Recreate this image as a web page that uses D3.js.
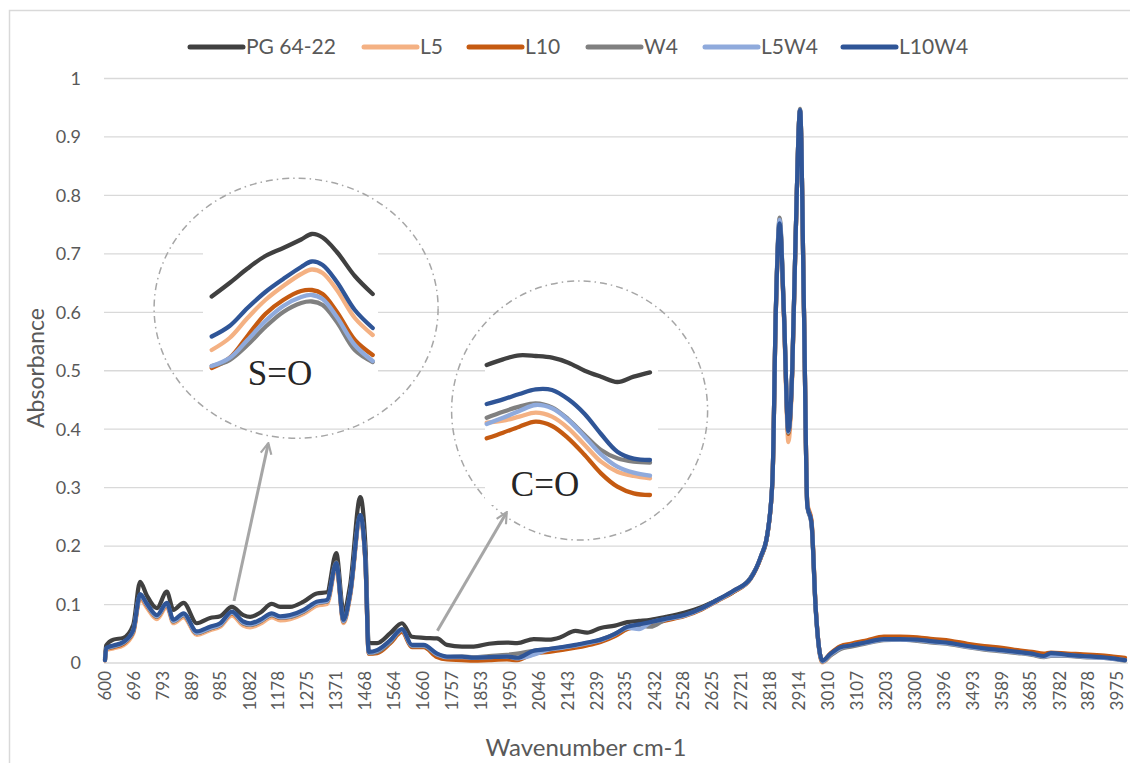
<!DOCTYPE html>
<html>
<head>
<meta charset="utf-8">
<script src="https://cdn.jsdelivr.net/npm/d3@7/dist/d3.min.js"></script>
<style>
  body { margin: 0; background: #fff; }
  svg { display: block; font-family: Lato, "Open Sans", sans-serif; }
</style>
</head>
<body>
<svg id="chart" width="1130" height="763"></svg>
<script>
// ---- spectrum data ----
const wavenumbers = [
  600, 604, 628, 661, 694, 717, 739, 773, 806, 828,
  862, 906, 950, 984, 1023, 1061, 1084, 1117, 1156, 1184,
  1217, 1262, 1306, 1340, 1371, 1395, 1417, 1451, 1468, 1479,
  1507, 1551, 1590, 1623, 1662, 1707, 1740, 1790, 1829, 1880,
  1940, 1974, 2029, 2080, 2118, 2168, 2207, 2252, 2300, 2341,
  2380, 2418, 2470, 2530, 2590, 2641, 2696, 2752, 2786, 2808,
  2825, 2836, 2849, 2863, 2878, 2891, 2902, 2917, 2930, 2941,
  2955, 2969, 2991, 3019, 3052, 3086, 3141, 3196, 3250, 3308,
  3360, 3419, 3475, 3531, 3590, 3642, 3690, 3730, 3753, 3809,
  3860, 3920, 3960, 4000];

const pg6422 = [
  .008, .030, .040, .043, .065, .139, .116, .094, .122, .091,
  .103, .068, .077, .080, .096, .082, .079, .086, .101, .096,
  .096, .105, .119, .121, .188, .088, .133, .284, .202, .034,
  .034, .051, .068, .045, .043, .042, .031, .028, .028, .033,
  .035, .034, .041, .040, .044, .055, .052, .060, .064, .070,
  .072, .074, .079, .086, .096, .108, .122, .146, .180, .220,
  .315, .600, .756, .600, .395, .505, .727, .946, .600, .270,
  .240, .093, .004, .015, .028, .031, .037, .043, .044, .042,
  .039, .036, .031, .027, .023, .020, .018, .014, .014, .015,
  .013, .011, .009, .007];

const l5 = [
  .004, .022, .025, .030, .050, .110, .095, .075, .096, .068,
  .078, .048, .056, .062, .081, .064, .061, .067, .078, .073,
  .075, .084, .098, .101, .163, .068, .113, .245, .170, .016,
  .019, .036, .055, .029, .029, .013, .009, .008, .007, .008,
  .009, .008, .018, .022, .025, .029, .033, .038, .048, .059,
  .064, .068, .074, .081, .093, .107, .124, .145, .181, .220,
  .312, .595, .748, .590, .378, .495, .722, .944, .598, .275,
  .245, .095, .001, .013, .026, .030, .036, .042, .042, .041,
  .038, .035, .030, .026, .023, .020, .017, .014, .015, .014,
  .013, .011, .010, .008];

const l10 = [
  .005, .024, .027, .033, .053, .114, .099, .079, .100, .071,
  .082, .051, .059, .065, .085, .068, .065, .071, .082, .077,
  .079, .088, .102, .105, .168, .071, .117, .250, .173, .016,
  .017, .034, .053, .027, .027, .010, .006, .005, .004, .005,
  .006, .005, .016, .019, .022, .026, .030, .036, .046, .058,
  .063, .067, .073, .080, .092, .106, .122, .144, .181, .220,
  .314, .598, .750, .598, .392, .502, .725, .945, .602, .272,
  .243, .095, .003, .017, .029, .033, .039, .045, .045, .044,
  .041, .038, .033, .029, .026, .022, .019, .016, .018, .016,
  .015, .013, .011, .009];

const w4 = [
  .005, .025, .028, .034, .054, .116, .100, .079, .101, .071,
  .082, .051, .059, .065, .086, .068, .065, .071, .082, .078,
  .079, .088, .102, .105, .172, .071, .118, .252, .175, .017,
  .019, .036, .056, .029, .029, .014, .010, .011, .010, .012,
  .014, .016, .021, .024, .026, .030, .034, .040, .050, .060,
  .064, .062, .075, .081, .093, .107, .123, .145, .182, .221,
  .316, .602, .762, .602, .394, .505, .728, .948, .600, .268,
  .238, .090, .002, .013, .024, .028, .034, .039, .040, .038,
  .035, .032, .027, .023, .020, .017, .014, .010, .012, .012,
  .010, .009, .007, .004];

const l5w4 = [
  .005, .025, .029, .035, .055, .116, .100, .080, .101, .072,
  .083, .052, .060, .066, .086, .069, .066, .072, .083, .078,
  .080, .089, .103, .106, .169, .072, .118, .250, .174, .018,
  .021, .038, .057, .030, .030, .015, .010, .010, .009, .010,
  .011, .008, .014, .023, .026, .030, .034, .039, .049, .060,
  .058, .069, .075, .081, .093, .107, .123, .145, .182, .221,
  .315, .600, .758, .600, .396, .505, .727, .946, .600, .270,
  .240, .093, .003, .015, .026, .030, .035, .040, .040, .039,
  .036, .033, .028, .024, .021, .018, .015, .011, .013, .013,
  .011, .009, .007, .005];

const l10w4 = [
  .005, .026, .030, .036, .056, .118, .102, .082, .103, .074,
  .085, .054, .062, .068, .088, .071, .068, .074, .085, .080,
  .082, .091, .105, .108, .171, .074, .120, .253, .176, .019,
  .022, .039, .058, .031, .031, .016, .011, .011, .009, .010,
  .011, .009, .021, .024, .027, .031, .035, .040, .050, .062,
  .066, .070, .076, .082, .094, .108, .124, .145, .182, .221,
  .315, .600, .752, .600, .397, .505, .727, .946, .600, .270,
  .240, .093, .004, .016, .027, .030, .036, .041, .041, .040,
  .037, .034, .029, .025, .022, .019, .016, .012, .017, .014,
  .012, .010, .008, .005];

// ---- zoomed insets ----
const soWn = [985, 995, 1005, 1015, 1025, 1035, 1041, 1047, 1055, 1065, 1075];
const soPG = [.0867, .0894, .0923, .0948, .0964, .0981, .0992, .0985, .0956, .0908, .0872];
const soL5 = [.0760, .0784, .0824, .0860, .0888, .0912, .0921, .0914, .0880, .0824, .0790];
const soL10 = [.0724, .0744, .0788, .0832, .0860, .0878, .0880, .0872, .0836, .0780, .0750];
const soW4 = [.0728, .0740, .0770, .0806, .0836, .0854, .0857, .0850, .0816, .0760, .0736];
const soL5W4 = [.0728, .0744, .0780, .0818, .0848, .0866, .0870, .0862, .0826, .0770, .0738];
const soL10W4 = [.0787, .0808, .0844, .0876, .0902, .0926, .0937, .0930, .0896, .0840, .0804];

const coWn = [1650, 1660, 1670, 1680, 1690, 1700, 1710, 1720, 1730, 1740, 1750];
const coPG = [.02575, .0266, .0272, .0271, .02685, .0261, .0249, .0240, .0232, .0240, .02465];
const coL5 = [.0171, .0174, .0180, .0186, .0180, .01625, .01375, .01125, .00975, .0091, .00875];
const coL10 = [.01475, .0156, .0165, .01725, .0166, .01475, .01225, .0095, .0075, .0065, .00625];
const coW4 = [.01785, .01875, .0195, .0200, .0194, .0176, .01525, .0130, .01175, .01125, .0111];
const coL5W4 = [.0169, .01785, .01885, .01975, .01925, .0175, .0150, .01235, .0105, .0096, .00915];
const coL10W4 = [.0199, .0206, .0214, .0221, .0220, .0206, .0184, .0154, .01275, .0117, .0115];

const seriesNames = ["PG 64-22", "L5", "L10", "W4", "L5W4", "L10W4"];
const seriesColors = ["#404040", "#F4B183", "#C55A11", "#808080", "#8FAADC", "#2F5597"];
const xTickLabels = [600, 696, 793, 889, 985, 1082, 1178, 1275, 1371, 1468, 1564, 1660,
  1757, 1853, 1950, 2046, 2143, 2239, 2335, 2432, 2528, 2625, 2721, 2818, 2914, 3010,
  3107, 3203, 3300, 3396, 3493, 3589, 3685, 3782, 3878, 3975];
const yTicks = [0, 0.1, 0.2, 0.3, 0.4, 0.5, 0.6, 0.7, 0.8, 0.9, 1];

// ---- layout ----
const svg = d3.select("#chart");
const x = d3.scaleLinear().domain([600, 4000]).range([105, 1125]);
const y = d3.scaleLinear().domain([0, 1]).range([663, 78.5]);
const gridLeft = 104, gridRight = 1128;
const textColor = "#595959";

// chart border
svg.append("rect").attr("x", 9.5).attr("y", 10.5).attr("width", 1140).attr("height", 770)
  .attr("fill", "#fff").attr("stroke", "#D9D9D9").attr("stroke-width", 1.5);

// gridlines
svg.append("g").selectAll("line").data(yTicks).join("line")
  .attr("x1", gridLeft).attr("x2", gridRight)
  .attr("y1", d => y(d)).attr("y2", d => y(d))
  .attr("stroke", "#D9D9D9").attr("stroke-width", 1.3);

// y tick labels
svg.append("g").selectAll("text").data(yTicks).join("text")
  .attr("x", 81).attr("y", d => y(d)).attr("dy", "0.35em")
  .attr("text-anchor", "end").attr("fill", textColor).style("font-size", "18px")
  .text(d => d3.format("~g")(d));

// x tick labels
svg.append("g").selectAll("text").data(xTickLabels).join("text")
  .attr("transform", d => `translate(${x(d)},671) rotate(-90)`)
  .attr("dy", "0.35em").attr("text-anchor", "end")
  .attr("fill", textColor).style("font-size", "17px")
  .text(d => d);

// axis titles
svg.append("text").attr("transform", "translate(36,368) rotate(-90)")
  .attr("dy", "0.35em").attr("text-anchor", "middle").attr("fill", textColor)
  .style("font-size", "23px").text("Absorbance");
svg.append("text").attr("x", 586).attr("y", 748).attr("dy", "0.35em")
  .attr("text-anchor", "middle").attr("fill", textColor)
  .style("font-size", "24px").text("Wavenumber cm-1");

// spectra
const allSeries = [pg6422, l5, l10, w4, l5w4, l10w4];
const line = d3.line().x(d => x(d[0])).y(d => y(d[1])).curve(d3.curveMonotoneX);
svg.append("g").selectAll("path").data(allSeries).join("path")
  .attr("d", s => line(wavenumbers.map((w, i) => [w, s[i]])))
  .attr("fill", "none").attr("stroke", (s, i) => seriesColors[i])
  .attr("stroke-width", 4.2).attr("stroke-linejoin", "round").attr("stroke-linecap", "round");

// legend
const legendX = [190, 364, 469, 588, 705, 843];
const leg = svg.append("g").selectAll("g").data(seriesNames).join("g")
  .attr("transform", (d, i) => `translate(${legendX[i]},47)`);
leg.append("line").attr("x1", 0).attr("x2", 53).attr("stroke", (d, i) => seriesColors[i])
  .attr("stroke-width", 5).attr("stroke-linecap", "round");
leg.append("text").attr("x", 56).attr("dy", "0.35em").attr("fill", textColor)
  .style("font-size", "21px").text(d => d);

// ---- annotations: dash-dot circles, zoomed insets, arrows ----
const circles = [
  { wn: 1237, abs: 0.607, rx: 142, ry: 130 },
  { wn: 2182, abs: 0.432, rx: 128, ry: 129.5 }];
svg.append("g").selectAll("ellipse").data(circles).join("ellipse")
  .attr("cx", d => x(d.wn)).attr("cy", d => y(d.abs))
  .attr("rx", d => d.rx).attr("ry", d => d.ry)
  .attr("fill", "none").attr("stroke", "#A6A6A6").attr("stroke-width", 1.5)
  .attr("stroke-dasharray", "7,4,1.5,4");

function drawInset(box, xs, ys, wn, sets, label, labelPos) {
  const g = svg.append("g");
  g.append("rect").attr("x", box[0]).attr("y", box[1])
    .attr("width", box[2] - box[0]).attr("height", box[3] - box[1]).attr("fill", "#fff");
  const ln = d3.line().x(d => xs(d[0])).y(d => ys(d[1])).curve(d3.curveCatmullRom);
  g.selectAll("path").data(sets).join("path")
    .attr("d", s => ln(wn.map((w, i) => [w, s[i]])))
    .attr("fill", "none").attr("stroke", (s, i) => seriesColors[i])
    .attr("stroke-width", 4.3).attr("stroke-linecap", "round");
  g.append("text").attr("x", labelPos[0]).attr("y", labelPos[1])
    .attr("text-anchor", "middle").attr("fill", "#262626")
    .style("font-family", "'Liberation Serif', 'DejaVu Serif', serif")
    .style("font-size", "35px").text(label);
}

drawInset([203, 215, 378, 400],
  d3.scaleLinear().domain([985, 1075]).range([211.7, 372.7]),
  d3.scaleLinear().domain([0.070, 0.100]).range([380, 230]),
  soWn, [soPG, soL5, soL10, soW4, soL5W4, soL10W4], "S=O", [280, 385]);

drawInset([485, 330, 658, 505],
  d3.scaleLinear().domain([1650, 1750]).range([486.7, 650]),
  d3.scaleLinear().domain([0.04, 0.01]).range([270, 470]),
  coWn, [coPG, coL5, coL10, coW4, coL5W4, coL10W4], "C=O", [545, 496]);

// arrows from the bands to the circles
const arrows = [
  { from: [1030, 0.106], to: [1144, 0.375] },
  { from: [1708, 0.055], to: [1938, 0.257] }];
svg.append("defs").append("marker").attr("id", "arrowHead")
  .attr("viewBox", "0 0 10 10").attr("refX", 8.5).attr("refY", 5)
  .attr("markerWidth", 4.5).attr("markerHeight", 4.5).attr("orient", "auto")
  .append("path").attr("d", "M1,1 L9,5 L1,9").attr("fill", "none")
  .attr("stroke", "#A6A6A6").attr("stroke-width", 1.6);
svg.append("g").selectAll("line").data(arrows).join("line")
  .attr("x1", d => x(d.from[0])).attr("y1", d => y(d.from[1]))
  .attr("x2", d => x(d.to[0])).attr("y2", d => y(d.to[1]))
  .attr("stroke", "#A6A6A6").attr("stroke-width", 3)
  .attr("marker-end", "url(#arrowHead)");
</script>
</body>
</html>
